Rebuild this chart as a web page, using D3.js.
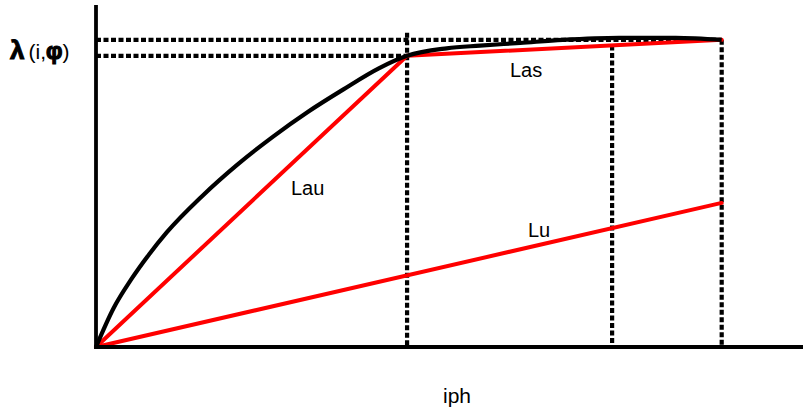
<!DOCTYPE html>
<html>
<head>
<meta charset="utf-8">
<script src="https://cdn.jsdelivr.net/npm/d3@7"></script>
<style>
  html, body { margin: 0; padding: 0; background: #fff; }
  text { font-family: "Liberation Sans", Arial, sans-serif; fill: #000; }
</style>
</head>
<body>
<svg id="chart" width="803" height="411"></svg>
<script>
// Magnetisation curve λ(i) and its linearised approximations
const curveI   = [0, 0.25, 0.5, 0.75, 1.0, 1.5, 2.0, 2.5, 3.0, 3.5, 4.0, 4.4, 4.96, 5.43, 6.0, 6.6, 7.4, 8.2, 8.85];
const curveLam = [0, 1.15, 2.0, 2.73, 3.38, 4.45, 5.38, 6.2, 6.94, 7.6, 8.22, 8.59, 8.81, 8.89, 8.97, 9.06, 9.12, 9.12, 9.06];

// Characteristic currents and flux linkages
const iMarks   = [4.4, 7.3, 8.85];
const lamRated = 8.59;   // λ at the knee
const lamMax   = 9.06;   // λ at the last current mark
const lamLu    = 4.25;   // unsaturated line value at the last current mark

// Straight-line approximations: [i0, λ0, i1, λ1]
const lineNames = ["Lau", "Las", "Lu"];
const lineSegs  = [
  [0, 0, 4.4, lamRated],
  [4.4, lamRated, 8.85, lamMax],
  [0, 0, 8.85, lamLu]
];

const svg = d3.select("#chart");
const x = d3.scaleLinear().domain([0, 10]).range([96, 803]);
const y = d3.scaleLinear().domain([0, 10]).range([347, 8]);

const dash = "5,2.5";

// dashed guide lines
const guides = svg.append("g").attr("stroke", "#000").attr("stroke-width", 4.2)
  .attr("stroke-dasharray", dash).attr("fill", "none");
// horizontal guides
guides.append("line").attr("x1", x(0)).attr("x2", x(iMarks[2])).attr("y1", y(lamMax)).attr("y2", y(lamMax));
guides.append("line").attr("x1", x(0)).attr("x2", x(iMarks[0])).attr("y1", y(lamRated)).attr("y2", y(lamRated));
// vertical guides
const lasAt = i => lamRated + (lamMax - lamRated) * (i - 4.4) / (8.85 - 4.4);
guides.append("line").attr("x1", x(iMarks[0])).attr("x2", x(iMarks[0])).attr("y1", y(9.27)).attr("y2", y(0));
guides.append("line").attr("x1", x(iMarks[1])).attr("x2", x(iMarks[1])).attr("y1", y(lasAt(iMarks[1]))).attr("y2", y(0));
guides.append("line").attr("x1", x(iMarks[2])).attr("x2", x(iMarks[2])).attr("y1", y(lamMax)).attr("y2", y(0));

// red approximation lines
svg.append("g").selectAll("line").data(lineSegs).join("line")
  .attr("x1", d => x(d[0])).attr("y1", d => y(d[1]))
  .attr("x2", d => x(d[2])).attr("y2", d => y(d[3]))
  .attr("stroke", "#ff0000").attr("stroke-width", 4).attr("stroke-linecap", "round");

// black magnetisation curve
const pts = curveI.map((v, k) => [v, curveLam[k]]);
svg.append("path").datum(pts)
  .attr("d", d3.line().x(d => x(d[0])).y(d => y(d[1])).curve(d3.curveMonotoneX))
  .attr("fill", "none").attr("stroke", "#000").attr("stroke-width", 4.2);

// axes
svg.append("line").attr("x1", x(0)).attr("x2", x(0)).attr("y1", y(0) + 2).attr("y2", 5)
  .attr("stroke", "#000").attr("stroke-width", 3.8);
svg.append("line").attr("x1", x(0) - 1.5).attr("x2", 803).attr("y1", y(0)).attr("y2", y(0))
  .attr("stroke", "#000").attr("stroke-width", 3.8);

// line labels
const labelPos = [[291, 195], [510, 77], [528, 237]];
svg.append("g").selectAll("text").data(lineNames).join("text")
  .attr("x", (d, k) => labelPos[k][0]).attr("y", (d, k) => labelPos[k][1])
  .attr("font-size", 20).text(d => d);

// axis titles
svg.append("text").attr("x", 443).attr("y", 403).attr("font-size", 21).text("iph");
const yt = svg.append("text").attr("x", 10).attr("y", 59).attr("font-size", 21);
yt.append("tspan").attr("font-weight", "bold").attr("font-size", 26)
  .attr("stroke", "#000").attr("stroke-width", 1).text("λ");
yt.append("tspan").attr("dx", 4).text("(i,");
yt.append("tspan").attr("font-weight", "bold").attr("font-size", 23)
  .attr("stroke", "#000").attr("stroke-width", 1.2).text("φ");
yt.append("tspan").text(")");
</script>
</body>
</html>
